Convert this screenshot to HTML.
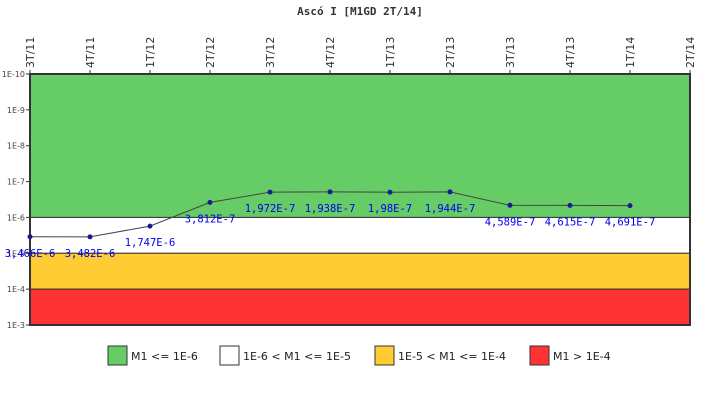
<!DOCTYPE html>
<html><head><meta charset="utf-8"><style>
body{margin:0;background:#fff;width:720px;height:400px;overflow:hidden;font-family:"DejaVu Sans","Liberation Sans",sans-serif}
</style></head><body>
<svg width="720" height="400" xmlns="http://www.w3.org/2000/svg" id="chart">
<text x="360" y="15" text-anchor="middle" font-family="DejaVu Sans Mono, Liberation Mono, monospace" font-size="11" font-weight="bold" fill="#333">Ascó I [M1GD 2T/14]</text>
<g id="bands"></g><g id="axes"></g><g id="series"></g>
<g font-size="11" fill="#222">
<rect x="108" y="346" width="19" height="19" fill="#66cc66" stroke="#333"/>
<text x="131" y="360">M1 &lt;= 1E-6</text>
<rect x="220" y="346" width="19" height="19" fill="#fff" stroke="#333"/>
<text x="243" y="360">1E-6 &lt; M1 &lt;= 1E-5</text>
<rect x="375" y="346" width="19" height="19" fill="#ffcc33" stroke="#333"/>
<text x="398" y="360">1E-5 &lt; M1 &lt;= 1E-4</text>
<rect x="530" y="346" width="19" height="19" fill="#ff3333" stroke="#333"/>
<text x="553" y="360">M1 &gt; 1E-4</text>
</g>
</svg>
<script>
const categories=["3T/11","4T/11","1T/12","2T/12","3T/12","4T/12","1T/13","2T/13","3T/13","4T/13","1T/14","2T/14"];
const values=[3.466e-6,3.482e-6,1.747e-6,3.812e-7,1.972e-7,1.938e-7,1.98e-7,1.944e-7,4.589e-7,4.615e-7,4.691e-7];
const valueLabels=["3,466E-6","3,482E-6","1,747E-6","3,812E-7","1,972E-7","1,938E-7","1,98E-7","1,944E-7","4,589E-7","4,615E-7","4,691E-7"];
const yTickExps=[-10,-9,-8,-7,-6,-5,-4,-3];
const bandEdges=[1e-10,1e-6,1e-5,1e-4,1e-3];
const bandColors=["#66cc66","#ffffff","#ffcc33","#ff3333"];
const NS="http://www.w3.org/2000/svg";
const X0=30,X1=690,Y0=74,Y1=325;
const xs=i=>X0+i*(X1-X0)/(categories.length-1);
const ys=v=>Y0+(Math.log10(v)+10)/7*(Y1-Y0);
function mk(tag,attrs,parent){const e=document.createElementNS(NS,tag);for(const k in attrs)e.setAttribute(k,attrs[k]);document.getElementById(parent).appendChild(e);return e;}
for(let i=0;i<bandColors.length;i++){
 const r=mk("rect",{x:X0,y:ys(bandEdges[i]),width:X1-X0,height:ys(bandEdges[i+1])-ys(bandEdges[i]),fill:bandColors[i],stroke:"#333","stroke-width":1},"bands");
 
 
}
const fr=mk("rect",{x:X0,y:Y0,width:X1-X0,height:Y1-Y0,fill:"none",stroke:"#333","stroke-width":2},"axes");


yTickExps.forEach(e=>{
 const y=ys(Math.pow(10,e));
 mk("line",{x1:X0-4,x2:X0,y1:y,y2:y,stroke:"#333"},"axes");
 const t=mk("text",{x:X0-5,y:y+3,"text-anchor":"end","font-size":"8",fill:"#444"},"axes");
 t.textContent="1E"+e;
 
 
});
categories.forEach((c,i)=>{
 const x=xs(i);
 mk("line",{x1:x,x2:x,y1:Y0-4,y2:Y0,stroke:"#333"},"axes");
 const t=mk("text",{x:0,y:0,transform:`translate(${x+4},${Y0-6}) rotate(-90)`,"font-size":"11",fill:"#333"},"axes");
 t.textContent=c;
 
 
});
const pl=mk("polyline",{points:values.map((v,i)=>xs(i)+","+ys(v)).join(" "),fill:"none",stroke:"#444","stroke-width":1},"series");


values.forEach((v,i)=>{
 const c=mk("circle",{cx:xs(i),cy:ys(v),r:2.5,fill:"#1a1a99"},"series");
 
 
 const t=mk("text",{x:xs(i),y:ys(v)+20,"text-anchor":"middle","font-family":"DejaVu Sans Mono, Liberation Mono, monospace","font-size":"10.5",fill:"#0000ee"},"series");
 t.textContent=valueLabels[i];
 
 
});
</script>
</body></html>
